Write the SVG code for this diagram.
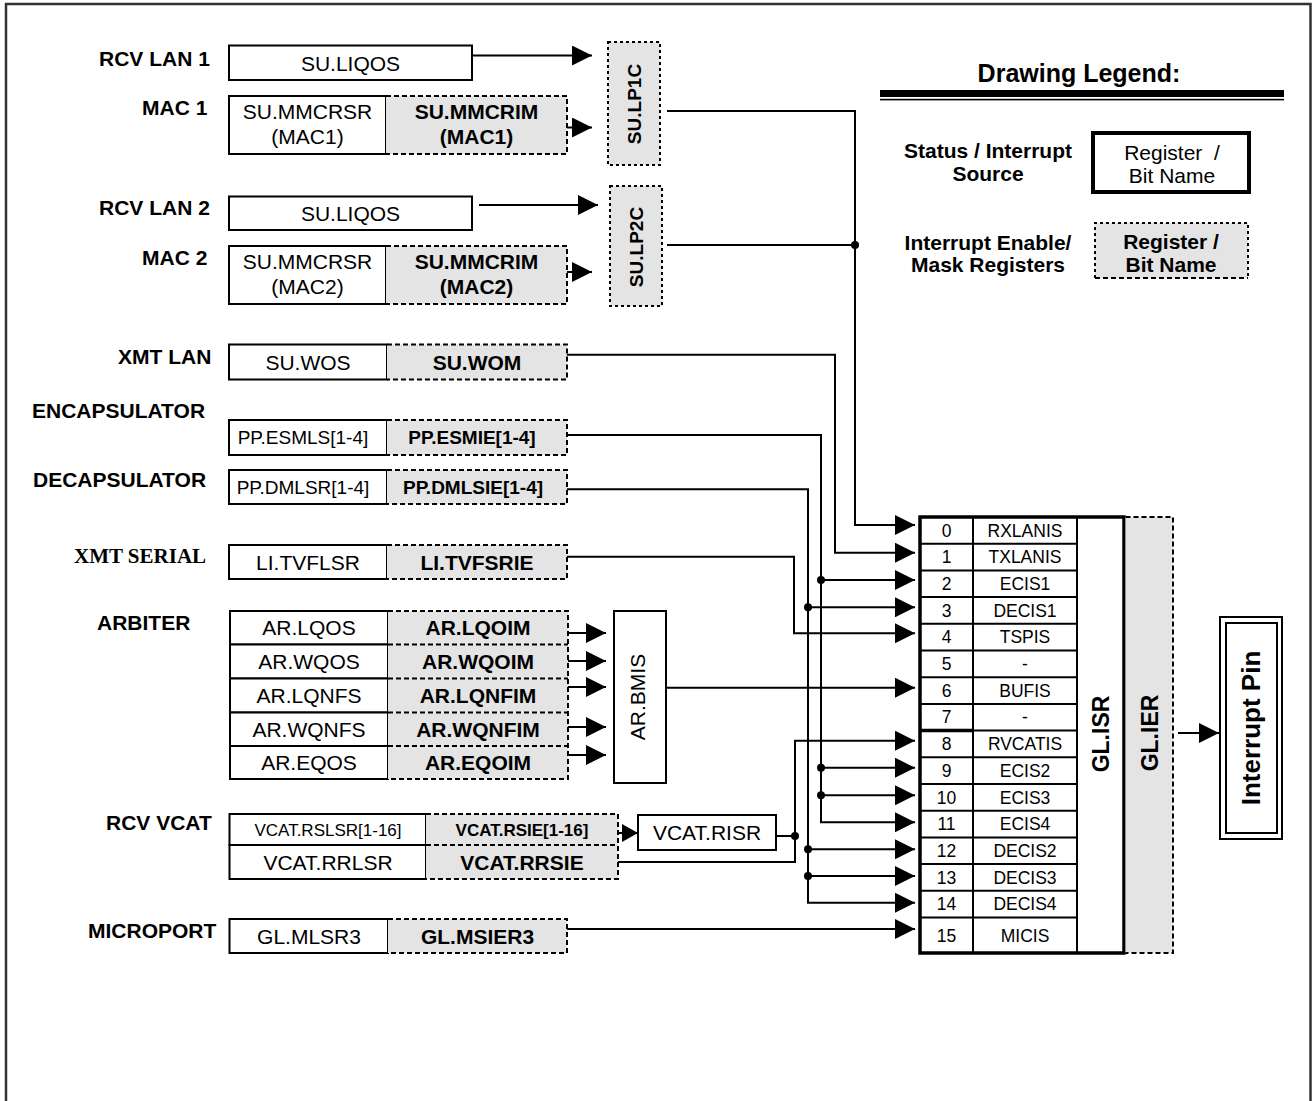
<svg xmlns="http://www.w3.org/2000/svg" width="1312" height="1101" viewBox="0 0 1312 1101">
<defs>
<style>
.box{fill:#fff;stroke:#000;stroke-width:2}
.mask{fill:#e4e4e4;stroke:none}
.dash{fill:none;stroke:#000;stroke-width:2;stroke-dasharray:5 3}
.dot{fill:none;stroke:#000;stroke-width:2;stroke-dasharray:3 3}
.t{font-family:"Liberation Sans",Arial,sans-serif;font-size:21px;text-anchor:middle;fill:#000}
.b{font-weight:bold}
.s19{font-size:19px}
.s17{font-size:17px}
.s18{font-size:17.5px}
.s23{font-size:23px}
.s26{font-size:26px}
.lbl{font-family:"Liberation Sans",Arial,sans-serif;font-size:21px;font-weight:bold;fill:#000}
.title{font-size:25px}
.serif{font-family:"Liberation Serif","Times New Roman",serif}
.wire{fill:none;stroke:#000;stroke-width:2}
.jn{fill:#000}
</style>
<marker id="ah" markerUnits="userSpaceOnUse" markerWidth="20" markerHeight="20" refX="20" refY="10" orient="auto" viewBox="0 0 20 20">
<path d="M0,0 L20,10 L0,20 Z" fill="#000"/>
</marker>
<marker id="ahs" markerUnits="userSpaceOnUse" markerWidth="16" markerHeight="18" refX="16" refY="9" orient="auto" viewBox="0 0 16 18">
<path d="M0,0 L16,9 L0,18 Z" fill="#000"/>
</marker>
</defs>

<rect x="0" y="0" width="1312" height="1101" fill="#fff"/>
<path d="M6,1101 V4 H1310.5 V1101" fill="none" stroke="#333" stroke-width="2.5"/>

<!-- Legend -->
<g id="legend">
<text class="lbl title" x="1079" y="82" text-anchor="middle">Drawing Legend:</text>
<rect x="880" y="90" width="404" height="7" fill="#000"/>
<rect x="880" y="98.8" width="404" height="1.6" fill="#000"/>
<text class="lbl" x="988" y="158" text-anchor="middle">Status / Interrupt</text>
<text class="lbl" x="988" y="181" text-anchor="middle">Source</text>
<rect x="1093" y="133" width="156" height="59" fill="#fff" stroke="#000" stroke-width="4"/>
<text class="t" x="1172" y="160">Register&#160; /</text>
<text class="t" x="1172" y="183">Bit Name</text>
<text class="lbl" x="988" y="250" text-anchor="middle">Interrupt Enable/</text>
<text class="lbl" x="988" y="272" text-anchor="middle">Mask Registers</text>
<rect class="mask" x="1095" y="223" width="153" height="55"/>
<path class="dot" d="M1095,278 V223 H1248 V278"/>
<path class="dash" d="M1095,278 H1248"/>
<text class="t b" x="1171" y="249">Register /</text>
<text class="t b" x="1171" y="272">Bit Name</text>
</g>

<!-- Left labels -->
<g id="labels">
<text class="lbl" x="99" y="66">RCV LAN 1</text>
<text class="lbl" x="142" y="115">MAC 1</text>
<text class="lbl" x="99" y="215">RCV LAN 2</text>
<text class="lbl" x="142" y="265">MAC 2</text>
<text class="lbl" x="118" y="364">XMT LAN</text>
<text class="lbl" x="32" y="418">ENCAPSULATOR</text>
<text class="lbl" x="33" y="487">DECAPSULATOR</text>
<text class="lbl serif" x="74" y="563">XMT SERIAL</text>
<text class="lbl" x="97" y="630">ARBITER</text>
<text class="lbl" x="106" y="830">RCV VCAT</text>
<text class="lbl" x="88" y="938">MICROPORT</text>
</g>

<!-- RCV LAN 1 / MAC 1 -->
<g id="su-liqos-1">
<rect class="box" x="229" y="45.5" width="243" height="34.5"/>
<text class="t" x="350.5" y="70.5">SU.LIQOS</text>
</g>
<g id="su-mmcrsr-1">
<rect class="box" x="229" y="96" width="157" height="58"/>
<text class="t" x="307.5" y="119">SU.MMCRSR</text>
<text class="t" x="307.5" y="144">(MAC1)</text>
</g>
<g id="su-mmcrim-1">
<rect class="mask" x="386" y="96" width="181" height="58"/>
<path class="dash" d="M386,96 H567 V154 H386"/>
<text class="t b" x="476.5" y="119">SU.MMCRIM</text>
<text class="t b" x="476.5" y="144">(MAC1)</text>
</g>
<g id="su-lp1c">
<rect class="mask" x="608" y="42" width="52" height="123"/>
<path class="dot" d="M608,42 H660 V165 H608 Z"/>
<text class="t b s19" transform="translate(634,104) rotate(-90)" y="7">SU.LP1C</text>
</g>

<!-- RCV LAN 2 / MAC 2 -->
<g id="su-liqos-2">
<rect class="box" x="229" y="196.5" width="243" height="33.5"/>
<text class="t" x="350.5" y="220.5">SU.LIQOS</text>
</g>
<g id="su-mmcrsr-2">
<rect class="box" x="229" y="246" width="157" height="58"/>
<text class="t" x="307.5" y="269">SU.MMCRSR</text>
<text class="t" x="307.5" y="294">(MAC2)</text>
</g>
<g id="su-mmcrim-2">
<rect class="mask" x="386" y="246" width="181" height="58"/>
<path class="dash" d="M386,246 H567 V304 H386"/>
<text class="t b" x="476.5" y="269">SU.MMCRIM</text>
<text class="t b" x="476.5" y="294">(MAC2)</text>
</g>
<g id="su-lp2c">
<rect class="mask" x="610" y="186" width="52" height="120"/>
<path class="dot" d="M610,186 H662 V306 H610 Z"/>
<text class="t b s19" transform="translate(636,247) rotate(-90)" y="7">SU.LP2C</text>
</g>

<!-- XMT LAN -->
<g id="su-wos">
<rect class="box" x="229" y="344.5" width="158" height="35"/>
<text class="t" x="308" y="369.5">SU.WOS</text>
</g>
<g id="su-wom">
<rect class="mask" x="387" y="344.5" width="180" height="35"/>
<path class="dash" d="M387,344.5 H567 V379.5 H387"/>
<text class="t b" x="477" y="369.5">SU.WOM</text>
</g>

<!-- ENCAP -->
<g id="pp-esmls">
<rect class="box" x="229" y="420" width="158" height="35"/>
<text class="t s19" x="303" y="444">PP.ESMLS[1-4]</text>
</g>
<g id="pp-esmie">
<rect class="mask" x="387" y="420" width="180" height="35"/>
<path class="dash" d="M387,420 H567 V455 H387"/>
<text class="t b s19" x="472" y="444">PP.ESMIE[1-4]</text>
</g>

<!-- DECAP -->
<g id="pp-dmlsr">
<rect class="box" x="229" y="470" width="158" height="34"/>
<text class="t s19" x="303" y="494">PP.DMLSR[1-4]</text>
</g>
<g id="pp-dmlsie">
<rect class="mask" x="387" y="470" width="180" height="34"/>
<path class="dash" d="M387,470 H567 V504 H387"/>
<text class="t b s19" x="473" y="494">PP.DMLSIE[1-4]</text>
</g>

<!-- XMT SERIAL -->
<g id="li-tvflsr">
<rect class="box" x="229" y="545" width="158" height="34"/>
<text class="t" x="308" y="569.5">LI.TVFLSR</text>
</g>
<g id="li-tvfsrie">
<rect class="mask" x="387" y="545" width="180" height="34"/>
<path class="dash" d="M387,545 H567 V579 H387"/>
<text class="t b" x="477" y="569.5">LI.TVFSRIE</text>
</g>

<!-- ARBITER -->
<g id="ar-status">
<rect class="box" x="230" y="611" width="158" height="33.5"/>
<rect class="box" x="230" y="644.5" width="158" height="34"/>
<rect class="box" x="230" y="678.5" width="158" height="34"/>
<rect class="box" x="230" y="712.5" width="158" height="33.5"/>
<rect class="box" x="230" y="746" width="158" height="33"/>
<text class="t" x="309" y="635">AR.LQOS</text>
<text class="t" x="309" y="669">AR.WQOS</text>
<text class="t" x="309" y="703">AR.LQNFS</text>
<text class="t" x="309" y="737">AR.WQNFS</text>
<text class="t" x="309" y="770">AR.EQOS</text>
</g>
<g id="ar-mask">
<rect class="mask" x="388" y="611" width="180" height="168"/>
<path class="dash" d="M388,611 H568 V779 H388 M388,644.5 H568 M388,678.5 H568 M388,712.5 H568 M388,746 H568"/>
<text class="t b" x="478" y="635">AR.LQOIM</text>
<text class="t b" x="478" y="669">AR.WQOIM</text>
<text class="t b" x="478" y="703">AR.LQNFIM</text>
<text class="t b" x="478" y="737">AR.WQNFIM</text>
<text class="t b" x="478" y="770">AR.EQOIM</text>
</g>
<g id="ar-bmis">
<rect class="box" x="614" y="611" width="52" height="172"/>
<text class="t" transform="translate(637,697) rotate(-90)" y="7.5">AR.BMIS</text>
</g>

<!-- RCV VCAT -->
<g id="vcat-status">
<rect class="box" x="229.5" y="814" width="196.5" height="31"/>
<rect class="box" x="229.5" y="845" width="196.5" height="34"/>
<text class="t s17" x="328" y="836">VCAT.RSLSR[1-16]</text>
<text class="t" x="328" y="869.5">VCAT.RRLSR</text>
</g>
<g id="vcat-mask">
<rect class="mask" x="426" y="814" width="192" height="65"/>
<path class="dash" d="M426,814 H618 V879 H426 M426,845 H618"/>
<text class="t b s17" x="522" y="836">VCAT.RSIE[1-16]</text>
<text class="t b" x="522" y="869.5">VCAT.RRSIE</text>
</g>
<g id="vcat-risr">
<rect class="box" x="638" y="815" width="138" height="35"/>
<text class="t" x="707" y="840">VCAT.RISR</text>
</g>

<!-- MICROPORT -->
<g id="gl-mlsr3">
<rect class="box" x="229.5" y="919" width="158.5" height="34"/>
<text class="t" x="309" y="943.5">GL.MLSR3</text>
</g>
<g id="gl-msier3">
<rect class="mask" x="388" y="919" width="179" height="34"/>
<path class="dash" d="M388,919 H567 V953 H388"/>
<text class="t b" x="477.5" y="943.5">GL.MSIER3</text>
</g>

<!-- GL.ISR table -->
<g id="gl-isr">
<rect x="920" y="517" width="204" height="436" fill="#fff" stroke="none"/>
<g stroke="#000" stroke-width="2">
<line x1="973" y1="517" x2="973" y2="953"/>
<line x1="1077" y1="517" x2="1077" y2="953"/>
<line x1="920" y1="543.7" x2="1077" y2="543.7"/>
<line x1="920" y1="570.4" x2="1077" y2="570.4"/>
<line x1="920" y1="597.1" x2="1077" y2="597.1"/>
<line x1="920" y1="623.8" x2="1077" y2="623.8"/>
<line x1="920" y1="650.5" x2="1077" y2="650.5"/>
<line x1="920" y1="677.2" x2="1077" y2="677.2"/>
<line x1="920" y1="703.9" x2="1077" y2="703.9"/>
<line x1="920" y1="730.6" x2="1077" y2="730.6"/>
<line x1="920" y1="757.3" x2="1077" y2="757.3"/>
<line x1="920" y1="784" x2="1077" y2="784"/>
<line x1="920" y1="810.7" x2="1077" y2="810.7"/>
<line x1="920" y1="837.4" x2="1077" y2="837.4"/>
<line x1="920" y1="864.1" x2="1077" y2="864.1"/>
<line x1="920" y1="890.8" x2="1077" y2="890.8"/>
<line x1="920" y1="917.5" x2="1077" y2="917.5"/>
</g>
<line x1="920" y1="730.6" x2="973" y2="730.6" stroke="#000" stroke-width="3.5"/>
<rect x="920" y="517" width="204" height="436" fill="none" stroke="#000" stroke-width="3.5"/>
<g class="t s18">
<text x="946.5" y="536.5">0</text><text x="1025" y="536.5">RXLANIS</text>
<text x="946.5" y="563.2">1</text><text x="1025" y="563.2">TXLANIS</text>
<text x="946.5" y="589.9">2</text><text x="1025" y="589.9">ECIS1</text>
<text x="946.5" y="616.6">3</text><text x="1025" y="616.6">DECIS1</text>
<text x="946.5" y="643.3">4</text><text x="1025" y="643.3">TSPIS</text>
<text x="946.5" y="670">5</text><text x="1025" y="670">-</text>
<text x="946.5" y="696.7">6</text><text x="1025" y="696.7">BUFIS</text>
<text x="946.5" y="723.4">7</text><text x="1025" y="723.4">-</text>
<text x="946.5" y="750.1">8</text><text x="1025" y="750.1">RVCATIS</text>
<text x="946.5" y="776.8">9</text><text x="1025" y="776.8">ECIS2</text>
<text x="946.5" y="803.5">10</text><text x="1025" y="803.5">ECIS3</text>
<text x="946.5" y="830.2">11</text><text x="1025" y="830.2">ECIS4</text>
<text x="946.5" y="856.9">12</text><text x="1025" y="856.9">DECIS2</text>
<text x="946.5" y="883.6">13</text><text x="1025" y="883.6">DECIS3</text>
<text x="946.5" y="910.3">14</text><text x="1025" y="910.3">DECIS4</text>
<text x="946.5" y="941.5">15</text><text x="1025" y="941.5">MICIS</text>
</g>
<text class="t b s23" transform="translate(1101,734) rotate(-90)" y="8">GL.ISR</text>
</g>

<g id="gl-ier">
<rect class="mask" x="1125.5" y="517" width="47.5" height="436"/>
<path class="dash" d="M1125.5,517 H1173 V953 H1125.5"/>
<text class="t b s23" transform="translate(1150,733) rotate(-90)" y="8">GL.IER</text>
</g>

<g id="interrupt-pin">
<rect x="1220" y="617" width="62" height="222" fill="#fff" stroke="#000" stroke-width="2"/>
<rect x="1226" y="623" width="51" height="210" fill="none" stroke="#000" stroke-width="2"/>
<text class="t b s26" transform="translate(1251,728) rotate(-90)" y="9">Interrupt Pin</text>
</g>

<!-- Connectors -->
<g id="connectors">
<g class="wire">
<path d="M472,55.5 H592" marker-end="url(#ah)"/>
<path d="M567,127.5 H592" marker-end="url(#ah)"/>
<path d="M479,205 H598" marker-end="url(#ah)"/>
<path d="M567,272 H592" marker-end="url(#ah)"/>
<path d="M667,111 H855 V525 H915" marker-end="url(#ah)"/>
<path d="M667,245 H855"/>
<path d="M567,354.7 H835 V552.7 H915" marker-end="url(#ah)"/>
<path d="M567,435 H821 V822.3 H915" marker-end="url(#ah)"/>
<path d="M821,580 H915" marker-end="url(#ah)"/>
<path d="M821,767.7 H915" marker-end="url(#ah)"/>
<path d="M821,795.3 H915" marker-end="url(#ah)"/>
<path d="M567,489.3 H808 V902.7 H915" marker-end="url(#ah)"/>
<path d="M808,607.3 H915" marker-end="url(#ah)"/>
<path d="M808,849.3 H915" marker-end="url(#ah)"/>
<path d="M808,876 H915" marker-end="url(#ah)"/>
<path d="M567,556.7 H794 V633.3 H915" marker-end="url(#ah)"/>
<path d="M568,633 H606" marker-end="url(#ah)"/>
<path d="M568,661 H606" marker-end="url(#ah)"/>
<path d="M568,687 H606" marker-end="url(#ah)"/>
<path d="M568,727 H606" marker-end="url(#ah)"/>
<path d="M568,755 H606" marker-end="url(#ah)"/>
<path d="M666,687.7 H915" marker-end="url(#ah)"/>
<path d="M618,833 H638" marker-end="url(#ahs)"/>
<path d="M618,862 H795 V740.7 H915" marker-end="url(#ah)"/>
<path d="M776,836 H795"/>
<path d="M567,929 H915" marker-end="url(#ah)"/>
<path d="M1178,733 H1219" marker-end="url(#ah)"/>
</g>
<circle class="jn" cx="855" cy="245" r="4"/>
<circle class="jn" cx="821" cy="580" r="4"/>
<circle class="jn" cx="821" cy="767.7" r="4"/>
<circle class="jn" cx="821" cy="795.3" r="4"/>
<circle class="jn" cx="808" cy="607.3" r="4"/>
<circle class="jn" cx="808" cy="849.3" r="4"/>
<circle class="jn" cx="808" cy="876" r="4"/>
<circle class="jn" cx="795" cy="836" r="4"/>
</g>
</svg>
